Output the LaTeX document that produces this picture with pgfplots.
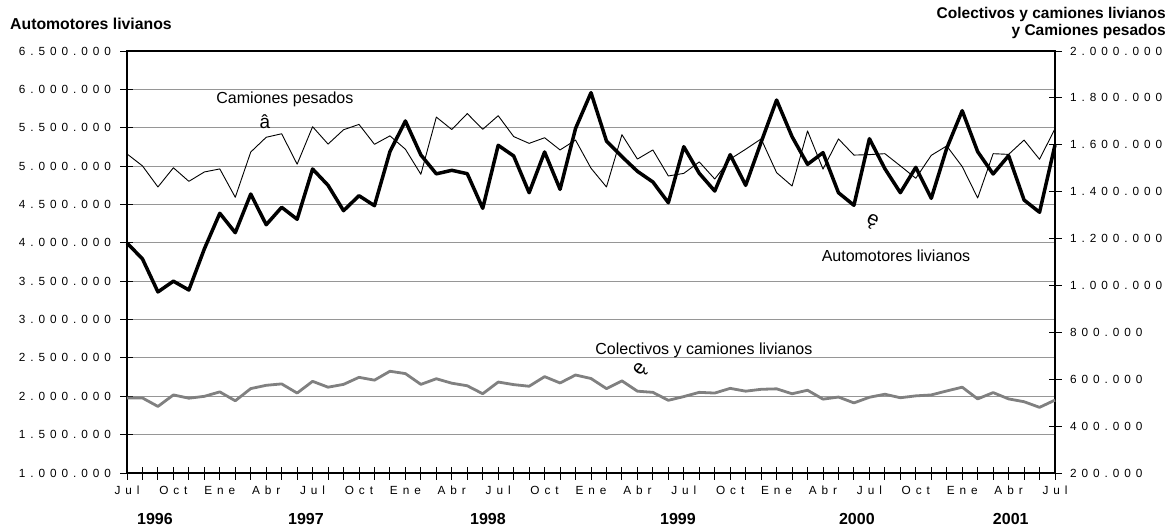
\documentclass[border=0pt]{standalone}
\usepackage{fontspec}
\setmainfont{Liberation Sans}
\newfontfamily\tickfont[LetterSpace=42]{Liberation Sans}
\usepackage{pgfplots}
\usepackage{pgfplotstable}
\pgfplotsset{compat=1.18}
\definecolor{gridgray}{HTML}{969696}
\definecolor{seriesgray}{HTML}{808080}

% mes 0 = julio 1996 ... mes 60 = julio 2001
\pgfplotstableread{
mes auto pesados colectivos
0 3998000 1561000 520000
1 3790000 1510000 520000
2 3360000 1420000 484000
3 3500000 1502000 533000
4 3385000 1444000 519000
5 3920000 1484000 527000
6 4385000 1497000 546000
7 4132000 1376000 508000
8 4636000 1569000 560000
9 4236000 1632000 574000
10 4463000 1647000 580000
11 4307000 1517000 541000
12 4962000 1677000 591000
13 4749000 1603000 566000
14 4419000 1664000 578000
15 4614000 1687000 608000
16 4484000 1602000 596000
17 5188000 1638000 634000
18 5588000 1581000 624000
19 5145000 1474000 578000
20 4899000 1718000 602000
21 4945000 1665000 583000
22 4901000 1733000 572000
23 4450000 1666000 538000
24 5271000 1724000 588000
25 5132000 1635000 577000
26 4653000 1606000 570000
27 5184000 1630000 611000
28 4697000 1578000 584000
29 5490000 1620000 618000
30 5957000 1500000 603000
31 5327000 1420000 560000
32 5123000 1643000 593000
33 4932000 1539000 549000
34 4793000 1578000 544000
35 4523000 1467000 510000
36 5253000 1478000 526000
37 4906000 1527000 544000
38 4675000 1454000 541000
39 5149000 1539000 561000
40 4749000 1581000 549000
41 5312000 1625000 557000
42 5861000 1481000 559000
43 5383000 1424000 538000
44 5023000 1659000 553000
45 5175000 1496000 515000
46 4653000 1625000 524000
47 4489000 1556000 499000
48 5357000 1558000 523000
49 4966000 1562000 536000
50 4653000 1510000 521000
51 4984000 1457000 529000
52 4580000 1555000 533000
53 5232000 1595000 550000
54 5722000 1507000 566000
55 5188000 1373000 516000
56 4897000 1562000 543000
57 5136000 1559000 516000
58 4558000 1620000 504000
59 4398000 1538000 480000
60 5275000 1669000 511000
}\ventas

\pgfplotsset{
  base/.style={
    at={(0pt,0pt)}, anchor=south west,
    scale only axis, width=928pt, height=422pt,
    xmin=0, xmax=60,
    scaled y ticks=false,
    tick align=center,
    major tick length=13pt, minor tick length=13pt,
    tick style={black, line width=0.9pt},
    axis line style={black, line width=1.2pt},
    ticklabel style={font=\tickfont\fontsize{11.8pt}{13pt}\selectfont},
    clip=false,
  },
}

\begin{document}
\begin{tikzpicture}
\path[use as bounding box] (-127pt,-54pt) rectangle (1042pt,473pt);
\begin{axis}[
  base,
  ymin=1000000, ymax=6500000,
  xtick={0,3,...,60}, minor xtick={0,...,60},
  xticklabels={Jul,Oct,Ene,Abr,Jul,Oct,Ene,Abr,Jul,Oct,Ene,Abr,Jul,Oct,Ene,Abr,Jul,Oct,Ene,Abr,Jul},
  ytick={1000000,1500000,2000000,2500000,3000000,3500000,4000000,4500000,5000000,5500000,6000000,6500000},
  yticklabels={1.000.000,1.500.000,2.000.000,2.500.000,3.000.000,3.500.000,4.000.000,4.500.000,5.000.000,5.500.000,6.000.000,6.500.000},
  xtick pos=bottom, ytick pos=left,
  yticklabel style={xshift=-6pt},
  xticklabel style={yshift=-3pt},
  ymajorgrids, major grid style={gridgray, line width=0.9pt},
]
\addplot[black, line width=3.5pt, line join=round] table[x=mes, y=auto] {\ventas};
\node[font=\fontsize{16pt}{18pt}\selectfont] at (axis cs:10.21,5874000) {Camiones pesados};
\node[font=\fontsize{19pt}{20pt}\selectfont] at (axis cs:8.92,5575000) {â};
\node[font=\fontsize{16pt}{18pt}\selectfont] at (axis cs:49.72,3828000) {Automotores livianos};
\node[font=\fontsize{20pt}{22pt}\selectfont, rotate=-25] at (axis cs:48.17,4271000) {ę};
\node[font=\fontsize{16pt}{18pt}\selectfont] at (axis cs:37.3,2603000) {Colectivos y camiones livianos};
\node[font=\fontsize{20pt}{22pt}\selectfont, rotate=50] at (axis cs:33.23,2342000) {ę};
\node[font=\bfseries\fontsize{16pt}{18pt}\selectfont, yshift=-46pt] at (axis cs:1.81,1000000) {1996};
\node[font=\bfseries\fontsize{16pt}{18pt}\selectfont, yshift=-46pt] at (axis cs:11.57,1000000) {1997};
\node[font=\bfseries\fontsize{16pt}{18pt}\selectfont, yshift=-46pt] at (axis cs:23.34,1000000) {1998};
\node[font=\bfseries\fontsize{16pt}{18pt}\selectfont, yshift=-46pt] at (axis cs:35.62,1000000) {1999};
\node[font=\bfseries\fontsize{16pt}{18pt}\selectfont, yshift=-46pt] at (axis cs:47.19,1000000) {2000};
\node[font=\bfseries\fontsize{16pt}{18pt}\selectfont, yshift=-46pt] at (axis cs:57.14,1000000) {2001};
\end{axis}
\begin{axis}[
  base,
  ymin=200000, ymax=2000000,
  axis x line=none, axis y line*=right,
  ytick={200000,400000,600000,800000,1000000,1200000,1400000,1600000,1800000,2000000},
  yticklabels={200.000,400.000,600.000,800.000,1.000.000,1.200.000,1.400.000,1.600.000,1.800.000,2.000.000},
  yticklabel style={xshift=5pt},
]
\addplot[black, line width=0.9pt, line join=round] table[x=mes, y=pesados] {\ventas};
\addplot[seriesgray, line width=2.8pt, line join=round] table[x=mes, y=colectivos] {\ventas};
\end{axis}
\node[anchor=west, inner sep=0pt, font=\bfseries\fontsize{15.8pt}{17pt}\selectfont] at (-117pt,449pt) {Automotores livianos};
\node[anchor=east, align=right, inner sep=0pt, font=\bfseries\fontsize{15.5pt}{17pt}\selectfont] at (1039pt,450.5pt) {Colectivos y camiones livianos\\y Camiones pesados};
\end{tikzpicture}
\end{document}
